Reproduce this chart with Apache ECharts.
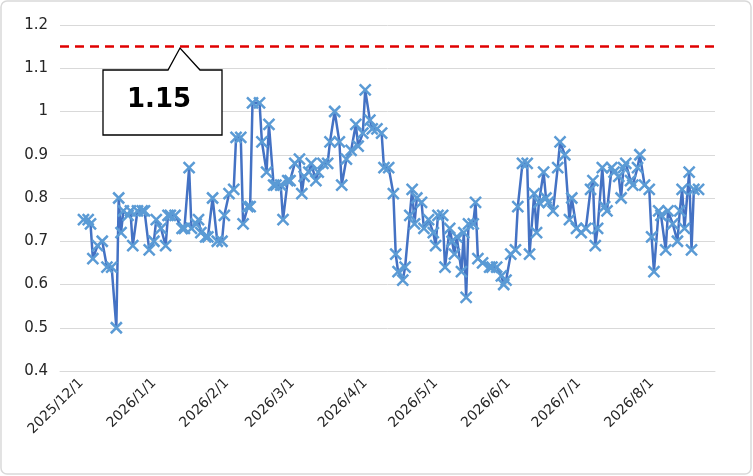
<!DOCTYPE html>
<html><head><meta charset="utf-8">
<script src="https://cdn.jsdelivr.net/npm/echarts@6/dist/echarts.min.js"></script>
<style>html,body{margin:0;padding:0;background:#fff}#c{width:753px;height:476px}</style>
</head><body><div id="c"></div>
<script>
// days since 2025-12-01
const dayOffsets = [1,3,4,5,7,9,11,13,15,16,17,18,20,21,22,24,26,27,29,31,32,34,36,37,38,40,43,44,46,47,49,50,51,53,54,56,58,60,61,63,65,66,68,69,71,72,73,76,77,79,80,82,83,85,86,88,89,91,93,94,95,97,98,100,101,103,105,106,108,110,111,113,115,117,118,120,121,123,124,126,128,129,131,133,134,135,137,138,140,141,142,143,145,146,148,150,151,152,154,155,157,158,159,160,162,163,164,165,167,168,169,171,174,175,177,179,180,181,183,185,186,188,190,191,193,194,195,197,198,199,201,203,204,206,208,209,211,213,215,217,218,219,220,222,223,224,226,227,229,230,231,232,234,235,237,238,240,242,243,244,246,247,249,250,252,254,255,256,257,259,260,261,263];
const values = [0.75,0.75,0.74,0.66,0.69,0.70,0.64,0.64,0.50,0.80,0.72,0.77,0.76,0.77,0.69,0.77,0.77,0.77,0.68,0.70,0.75,0.73,0.69,0.76,0.76,0.76,0.73,0.73,0.87,0.73,0.74,0.75,0.72,0.71,0.71,0.80,0.70,0.70,0.76,0.81,0.82,0.94,0.94,0.74,0.78,0.78,1.02,1.02,0.93,0.86,0.97,0.83,0.83,0.83,0.75,0.84,0.84,0.88,0.89,0.81,0.85,0.86,0.88,0.84,0.86,0.88,0.88,0.93,1.00,0.93,0.83,0.89,0.91,0.97,0.92,0.95,1.05,0.98,0.96,0.96,0.95,0.87,0.87,0.81,0.67,0.63,0.61,0.64,0.76,0.82,0.74,0.80,0.79,0.73,0.75,0.72,0.69,0.76,0.76,0.64,0.73,0.70,0.67,0.71,0.63,0.72,0.57,0.74,0.74,0.79,0.66,0.65,0.64,0.64,0.64,0.62,0.60,0.61,0.67,0.68,0.78,0.88,0.88,0.67,0.81,0.72,0.79,0.86,0.80,0.79,0.77,0.87,0.93,0.90,0.75,0.80,0.73,0.72,0.73,0.82,0.84,0.69,0.73,0.87,0.78,0.77,0.87,0.86,0.85,0.80,0.87,0.88,0.84,0.83,0.87,0.90,0.83,0.82,0.71,0.63,0.77,0.76,0.68,0.77,0.74,0.70,0.77,0.82,0.73,0.86,0.68,0.82,0.82];
const monthOffsets = [0,31,62,90,121,151,182,212,243];
const monthLabels = ['2025/12/1','2026/1/1','2026/2/1','2026/3/1','2026/4/1','2026/5/1','2026/6/1','2026/7/1','2026/8/1'];
const threshold = 1.15;

const chart = echarts.init(document.getElementById('c'));
const font = 'Verdana, "DejaVu Sans", sans-serif';
chart.setOption({
  animation:false,
  grid:{left:60,right:38,top:25,bottom:105},
  xAxis:{type:'value',min:-9,max:270,
    axisLine:{show:true,lineStyle:{color:'#d9d9d9'}},
    axisTick:{show:false},splitLine:{show:false},
    axisLabel:{customValues:monthOffsets,rotate:45,color:'#262626',fontSize:14,fontFamily:font,margin:10,
      formatter:v=>monthLabels[monthOffsets.indexOf(Math.round(v))]||''}},
  yAxis:{type:'value',min:0.4,max:1.2,interval:0.1,
    axisLine:{show:false},axisTick:{show:false},
    splitLine:{lineStyle:{color:'#d9d9d9',width:1}},
    axisLabel:{color:'#262626',fontSize:15,fontFamily:font,margin:12,
      formatter:v=>String(Math.round(v*10)/10)}},
  series:[{type:'line',data:dayOffsets.map((d,i)=>[d,values[i]]),
    lineStyle:{color:'#4472C4',width:2.5},
    symbol:'path://M0,0L10,10M10,0L0,10',symbolSize:11,
    itemStyle:{color:'rgba(0,0,0,0)',borderColor:'#5B9BD5',borderWidth:2.5},
    markLine:{silent:true,symbol:'none',label:{show:false},
      lineStyle:{color:'#E00000',type:[9,6],width:2.5},
      data:[{yAxis:threshold}]}
  }],
  graphic:[
    {type:'rect',shape:{x:1,y:1,width:750,height:473,r:6},style:{fill:null,stroke:'#d9d9d9',lineWidth:1.5},silent:true},
    {type:'polygon',shape:{points:[[103,70],[168,70],[180,48],[200,70],[222,70],[222,135],[103,135]]},
      style:{fill:'#fff',stroke:'#000',lineWidth:1.3},z:100},
    {type:'text',left:127,top:87,z:101,style:{text:'1.15',fill:'#000',font:'bold 26px '+font}}
  ]
});
</script></body></html>
